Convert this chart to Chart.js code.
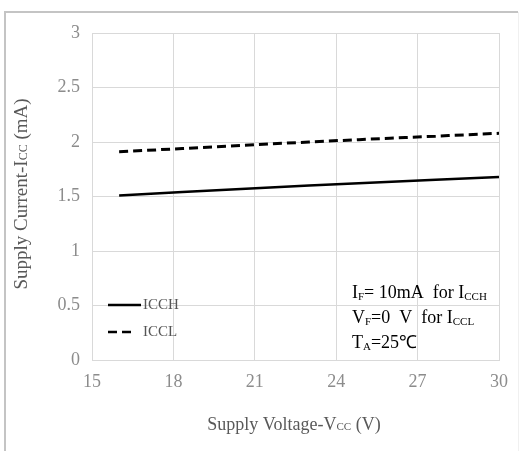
<!DOCTYPE html>
<html>
<head>
<meta charset="utf-8">
<script src="https://cdn.jsdelivr.net/npm/chart.js@4"></script>
<style>
  html, body { margin: 0; padding: 0; background: #fff; }
  #wrap { width: 522px; height: 451px; }
</style>
</head>
<body>
<div id="wrap"><canvas id="chart" width="522" height="451"></canvas></div>
<script>
// supply voltage (V)
const voltages = [16, 23, 30];
// supply current (mA)
const icch = [1.51, 1.60, 1.68];
const iccl = [1.91, 2.00, 2.08];
const seriesNames = ["ICCH", "ICCL"];
const xTicks = [15, 18, 21, 24, 27, 30];
const yTicks = [0, 0.5, 1, 1.5, 2, 2.5, 3];

const gridColor = "#d9d9d9";
const tickColor = "#8c8c8c";
const titleColor = "#595959";
const serif = "'Liberation Serif', serif";

//Draw text made of [text, isSubscript] parts
function drawParts(ctx, parts, x, y, size, subSize, family) {
  let cx = x;
  parts.forEach(([txt, sub]) => {
    ctx.font = (sub ? subSize : size) + "px " + family;
    ctx.fillText(txt, cx, y + (sub ? 2 : 0));
    cx += ctx.measureText(txt).width;
  });
  return cx - x;
}
function partsWidth(ctx, parts, size, subSize, family) {
  let w = 0;
  parts.forEach(([txt, sub]) => {
    ctx.font = (sub ? subSize : size) + "px " + family;
    w += ctx.measureText(txt).width;
  });
  return w;
}

//Frame, axis titles, legend and conditions
const decorPlugin = {
  id: "decor",
  beforeDraw(chart) {
    const ctx = chart.ctx;
    ctx.save();
    ctx.fillStyle = "#fff";
    ctx.fillRect(0, 0, chart.width, chart.height);
    ctx.strokeStyle = "#c4c4c4";
    ctx.lineWidth = 2;
    ctx.beginPath();
    ctx.moveTo(5, 451);
    ctx.lineTo(5, 12);
    ctx.lineTo(518, 12);
    ctx.stroke();
    ctx.strokeStyle = "#f0f0f0";
    ctx.lineWidth = 1;
    ctx.beginPath();
    ctx.moveTo(518.5, 12);
    ctx.lineTo(518.5, 451);
    ctx.stroke();
    ctx.restore();
  },
  afterDraw(chart) {
    const ctx = chart.ctx;
    ctx.save();
    ctx.textBaseline = "middle";
    ctx.fillStyle = titleColor;

    //x axis title
    const xParts = [["Supply Voltage-V", false], ["CC", true], [" (V)", false]];
    const xw = partsWidth(ctx, xParts, 18, 11, serif);
    drawParts(ctx, xParts, 294 - xw / 2, 425, 18, 11, serif);

    //y axis title
    const yParts = [["Supply Current-I", false], ["CC", true], [" (mA)", false]];
    const yw = partsWidth(ctx, yParts, 19, 12, serif);
    ctx.save();
    ctx.translate(22, 194);
    ctx.rotate(-Math.PI / 2);
    drawParts(ctx, yParts, -yw / 2, 0, 19, 12, serif);
    ctx.restore();

    //legend
    const ds = chart.data.datasets;
    const legY = [305, 332];
    ds.forEach((d, i) => {
      ctx.strokeStyle = "#000";
      ctx.lineWidth = 2.5;
      ctx.setLineDash(d.borderDash || []);
      ctx.beginPath();
      ctx.moveTo(108, legY[i]);
      ctx.lineTo(i === 0 ? 141 : 134, legY[i]);
      ctx.stroke();
      ctx.setLineDash([]);
      ctx.fillStyle = "#555";
      ctx.font = "15px " + serif;
      ctx.fillText(d.label, 143, legY[i]);
    });

    //test conditions
    ctx.fillStyle = "#000";
    ctx.textBaseline = "alphabetic";
    const notes = [
      [["I", false], ["F", true], ["= 10mA  for I", false], ["CCH", true]],
      [["V", false], ["F", true], ["=0  V  for I", false], ["CCL", true]],
      [["T", false], ["A", true], ["=25\u2103", false]],
    ];
    const noteY = [298, 323, 348];
    notes.forEach((p, i) => drawParts(ctx, p, 352, noteY[i], 18, 11, serif));
    ctx.restore();
  },
};

const ctx = document.getElementById("chart").getContext("2d");
const chart = new Chart(ctx, {
  type: "line",
  data: {
    labels: voltages,
    datasets: [
      {
        label: seriesNames[0],
        data: voltages.map((v, i) => ({ x: v, y: icch[i] })),
        borderColor: "#000",
        borderWidth: 2.5,
        pointRadius: 0,
        cubicInterpolationMode: "monotone",
      },
      {
        label: seriesNames[1],
        data: voltages.map((v, i) => ({ x: v, y: iccl[i] })),
        borderColor: "#000",
        borderWidth: 3,
        borderDash: [9, 5],
        pointRadius: 0,
        cubicInterpolationMode: "monotone",
      },
    ],
  },
  options: {
    responsive: false,
    animation: false,
    devicePixelRatio: 1,
    layout: { padding: { left: 0, top: 33, right: 23, bottom: 0 } },
    plugins: {
      legend: { display: false },
      tooltip: { enabled: false },
    },
    scales: {
      x: {
        type: "linear",
        min: 15,
        max: 30,
        afterBuildTicks: (s) => { s.ticks = xTicks.map((v) => ({ value: v })); },
        afterFit: (s) => { s.height = 91; },
        grid: { color: gridColor, drawTicks: false },
        border: { color: gridColor },
        ticks: {
          color: tickColor,
          padding: 11,
          maxRotation: 0,
          callback: (v) => String(v),
          font: { family: serif, size: 18 },
        },
      },
      y: {
        min: 0,
        max: 3,
        afterBuildTicks: (s) => { s.ticks = yTicks.map((v) => ({ value: v })); },
        afterFit: (s) => { s.width = 92; },
        grid: { color: gridColor, drawTicks: false },
        border: { color: gridColor },
        ticks: {
          color: tickColor,
          padding: 12,
          callback: (v) => String(v),
          font: { family: serif, size: 18 },
        },
      },
    },
  },
  plugins: [decorPlugin],
});
</script>
</body>
</html>
